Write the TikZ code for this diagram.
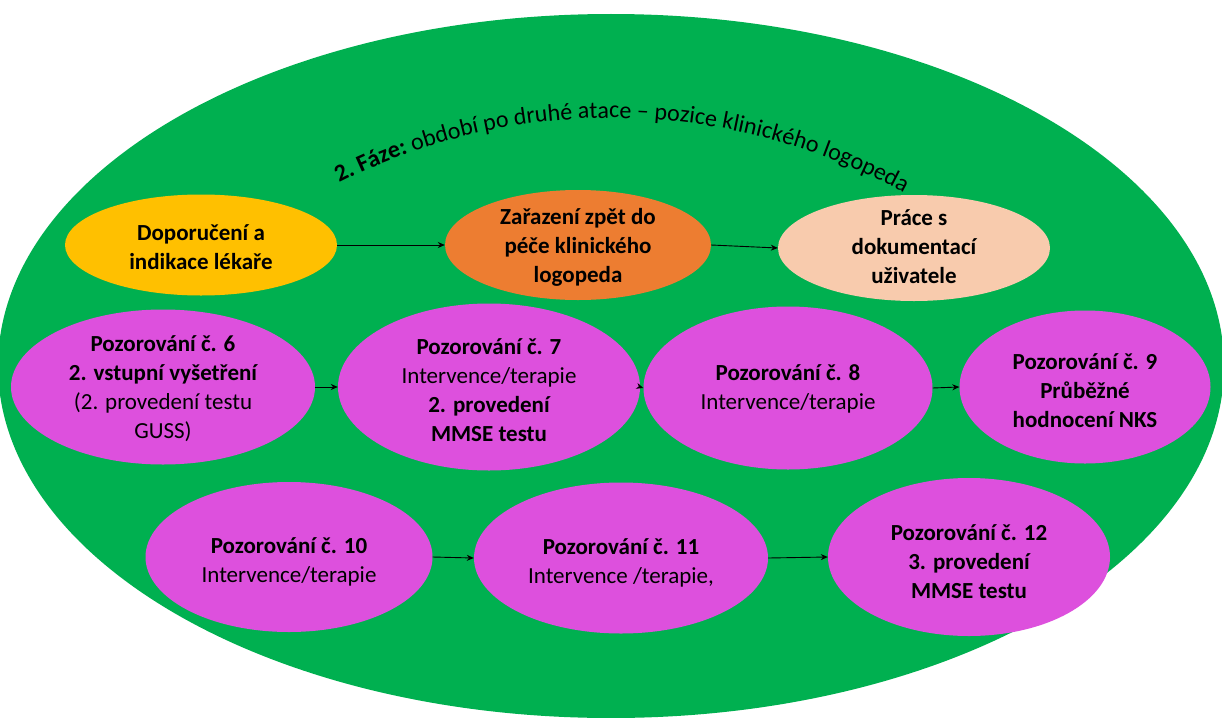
\documentclass[tikz,border=0pt]{standalone}
\usepackage{fontspec}
\setmainfont{Carlito}
\usetikzlibrary{shapes.geometric,decorations.text,arrows.meta}
\definecolor{bggreen}{HTML}{00B050}
\definecolor{yel}{HTML}{FFC000}
\definecolor{org}{HTML}{ED7D31}
\definecolor{pch}{HTML}{F8CBAD}
\definecolor{pur}{HTML}{DD50DD}
\tikzset{
  ell/.style={ellipse, inner sep=0pt, draw=none},
  lbl/.style={align=center, font=\fontsize{23}{29}\selectfont, text=black, inner sep=0pt},
  arr/.style={-{Stealth[length=7pt,width=6pt]}, line width=0.9pt, black},
}
\begin{document}
\begin{tikzpicture}[x=1pt,y=-1pt]
\useasboundingbox (0,0) rectangle (1222,717);
\clip (0,0) rectangle (1222,717);
\node[ell, fill=bggreen, minimum width=1226pt, minimum height=704pt] (bg) at (611,366) {};

% title along arc
\coordinate (tc) at (612,723);
\path[decorate, decoration={text along path, text align=center,
  text={|\fontsize{24}{28}\selectfont\bfseries|2. Fáze: |\fontsize{24}{28}\selectfont\mdseries|období po druhé atace – pozice klinického logopeda}}]
  (tc) ++(240:605) arc[start angle=240, end angle=302, radius=605];

% top row
\node[ell, fill=yel, minimum width=272pt, minimum height=101pt] (d1) at (201,245) {};
\node[ell, fill=org, minimum width=266pt, minimum height=110pt] (d2) at (578,245) {};
\node[ell, fill=pch, minimum width=272pt, minimum height=106pt] (d3) at (914,248) {};
\node[lbl] (t1) at (201,247) {\bfseries Doporučení a\\\bfseries indikace lékaře};
\node[lbl] (t2) at (578,247) {\bfseries Zařazení zpět do\\\bfseries péče klinického\\\bfseries logopeda};
\node[lbl] (t3) at (914,247) {\bfseries Práce s\\\bfseries dokumentací\\\bfseries uživatele};

% second row
\node[ell, fill=pur, minimum width=304pt, minimum height=155pt] (n6) at (163,387) {};
\node[ell, fill=pur, minimum width=302pt, minimum height=167pt] (n7) at (489,387) {};
\node[ell, fill=pur, minimum width=289pt, minimum height=163pt] (n8) at (788,388) {};
\node[ell, fill=pur, minimum width=251pt, minimum height=153pt] (n9) at (1085,387) {};
\node[lbl] (t6) at (163,389) {\bfseries Pozorování č. 6\\\bfseries 2. vstupní vyšetření\\(2. provedení testu\\GUSS)};
\node[lbl] (t7) at (489,390) {\bfseries Pozorování č. 7\\Intervence/terapie\\\bfseries 2. provedení\\\bfseries MMSE testu};
\node[lbl] (t8) at (788,389) {\bfseries Pozorování č. 8\\Intervence/terapie};
\node[lbl] (t9) at (1085,391) {\bfseries Pozorování č. 9\\\bfseries Průběžné\\\bfseries hodnocení NKS};

% third row
\node[ell, fill=pur, minimum width=287pt, minimum height=150pt] (n10) at (289,557) {};
\node[ell, fill=pur, minimum width=294pt, minimum height=151pt] (n11) at (621,558) {};
\node[ell, fill=pur, minimum width=282pt, minimum height=158pt] (n12) at (969,557) {};
\node[lbl] (t10) at (289,562) {\bfseries Pozorování č. 10\\Intervence/terapie};
\node[lbl] (t11) at (621,563) {\bfseries Pozorování č. 11\\Intervence /terapie,};
\node[lbl] (t12) at (969,562) {\bfseries Pozorování č. 12\\\bfseries 3. provedení\\\bfseries MMSE testu};

% arrows
\draw[arr] (d1.east) -- (d2.west);
\draw[arr] (d2.east) -- (d3.west);
\draw[arr] (n6.east) -- (n7.west);
\draw[arr] (n7.east) -- (n8.west);
\draw[arr] (n8.east) -- (n9.west);
\draw[arr] (n10.east) -- (n11.west);
\draw[arr] (n11.east) -- (n12.west);
\end{tikzpicture}
\end{document}
